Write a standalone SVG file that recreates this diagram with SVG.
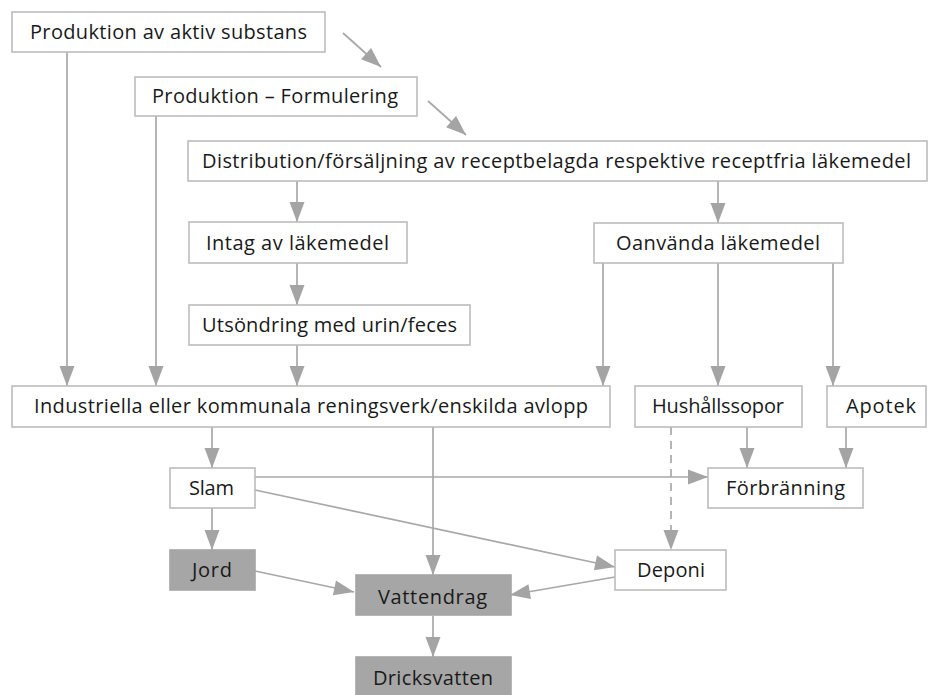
<svg xmlns="http://www.w3.org/2000/svg" width="928" height="695" viewBox="0 0 928 695">
<style>
.b{fill:#fff;stroke:#bcbcbc;stroke-width:1.6}
.g{fill:#a6a6a6;stroke:#a6a6a6;stroke-width:1.6}
text{font-family:"Open Sans","Liberation Sans",sans-serif;font-size:20px;fill:#1a1a1a;text-anchor:middle}
.c line{stroke:#a8a8a8;stroke-width:1.7}
.c .d{stroke-dasharray:8,6}
.ah{fill:#a4a4a4;stroke:none}
</style>
<defs>
<marker id="a" markerUnits="userSpaceOnUse" markerWidth="20" markerHeight="15" viewBox="0 0 20 15" refX="20" refY="7.5" orient="auto" overflow="visible">
<path class="ah" d="M0,0 L20,7.5 L0,15 Z"/>
</marker>
</defs>
<rect width="928" height="695" fill="#fff"/>
<g class="c">
<line x1="343" y1="33" x2="381" y2="67" marker-end="url(#a)"/>
<line x1="428" y1="101" x2="466" y2="135" marker-end="url(#a)"/>
<line x1="67" y1="52" x2="67" y2="386" marker-end="url(#a)"/>
<line x1="156" y1="116" x2="156" y2="386" marker-end="url(#a)"/>
<line x1="297" y1="181" x2="297" y2="222" marker-end="url(#a)"/>
<line x1="718" y1="181" x2="718" y2="223" marker-end="url(#a)"/>
<line x1="297" y1="263" x2="297" y2="305" marker-end="url(#a)"/>
<line x1="297" y1="345" x2="297" y2="386" marker-end="url(#a)"/>
<line x1="603" y1="263" x2="603" y2="386" marker-end="url(#a)"/>
<line x1="718" y1="263" x2="718" y2="386" marker-end="url(#a)"/>
<line x1="833" y1="263" x2="833" y2="386" marker-end="url(#a)"/>
<line x1="212" y1="427" x2="212" y2="468" marker-end="url(#a)"/>
<line x1="433" y1="427" x2="433" y2="575" marker-end="url(#a)"/>
<line x1="747" y1="427" x2="747" y2="468" marker-end="url(#a)"/>
<line x1="846" y1="427" x2="846" y2="468" marker-end="url(#a)"/>
<line class="d" x1="671" y1="427" x2="671" y2="550" marker-end="url(#a)"/>
<line x1="255" y1="477" x2="708" y2="477" marker-end="url(#a)"/>
<line x1="255" y1="490" x2="615" y2="567" marker-end="url(#a)"/>
<line x1="212" y1="508" x2="212" y2="550" marker-end="url(#a)"/>
<line x1="255" y1="571" x2="354" y2="592" marker-end="url(#a)"/>
<line x1="615" y1="577" x2="510" y2="595" marker-end="url(#a)"/>
<line x1="433" y1="616" x2="433" y2="657" marker-end="url(#a)"/>
</g>
<g id="n1"><rect class="b" x="12" y="12" width="313" height="40"/><text x="168.5" y="39" textLength="277" lengthAdjust="spacing">Produktion av aktiv substans</text></g>
<g id="n2"><rect class="b" x="135" y="77" width="282" height="39"/><text x="275" y="103" textLength="246" lengthAdjust="spacing">Produktion – Formulering</text></g>
<g id="n3"><rect class="b" x="188" y="141" width="739" height="40"/><text x="556.5" y="168" textLength="709" lengthAdjust="spacing">Distribution/försäljning av receptbelagda respektive receptfria läkemedel</text></g>
<g id="n4"><rect class="b" x="189" y="222" width="218" height="41"/><text x="297.5" y="250" textLength="183" lengthAdjust="spacing">Intag av läkemedel</text></g>
<g id="n5"><rect class="b" x="594" y="223" width="249" height="40"/><text x="718" y="250" textLength="204" lengthAdjust="spacing">Oanvända läkemedel</text></g>
<g id="n6"><rect class="b" x="189" y="305" width="281" height="40"/><text x="329.5" y="332" textLength="255" lengthAdjust="spacing">Utsöndring med urin/feces</text></g>
<g id="n7"><rect class="b" x="12" y="386" width="598" height="41"/><text x="311" y="413" textLength="554" lengthAdjust="spacing">Industriella eller kommunala reningsverk/enskilda avlopp</text></g>
<g id="n8"><rect class="b" x="635" y="386" width="167" height="41"/><text x="718" y="413" textLength="132" lengthAdjust="spacing">Hushållssopor</text></g>
<g id="n9"><rect class="b" x="827" y="386" width="99" height="41"/><text x="881" y="413" textLength="70" lengthAdjust="spacing">Apotek</text></g>
<g id="n10"><rect class="b" x="170" y="468" width="85" height="40"/><text x="211.5" y="495" textLength="45" lengthAdjust="spacing">Slam</text></g>
<g id="n11"><rect class="b" x="708" y="468" width="155" height="40"/><text x="785.5" y="495" textLength="119" lengthAdjust="spacing">Förbränning</text></g>
<g id="n12"><rect class="g" x="170" y="550" width="85" height="40"/><text x="212" y="577" textLength="40" lengthAdjust="spacing">Jord</text></g>
<g id="n13"><rect class="b" x="615" y="550" width="111" height="40"/><text x="671" y="577" textLength="68" lengthAdjust="spacing">Deponi</text></g>
<g id="n14"><rect class="g" x="356" y="575" width="155" height="40"/><text x="432.5" y="604" textLength="109" lengthAdjust="spacing">Vattendrag</text></g>
<g id="n15"><rect class="g" x="356" y="657" width="155" height="40"/><text x="433" y="685" textLength="120" lengthAdjust="spacing">Dricksvatten</text></g>
</svg>
